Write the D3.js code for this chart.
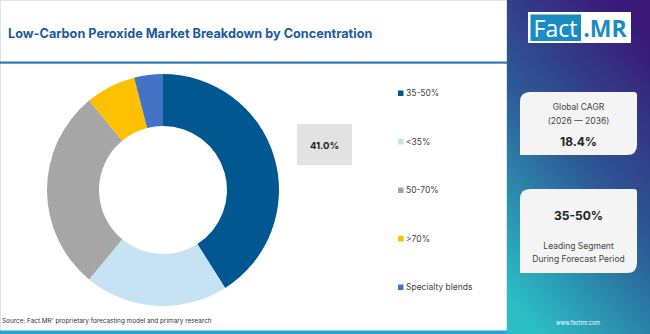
<!DOCTYPE html>
<html>
<head>
<meta charset="UTF-8">
<title>Low-Carbon Peroxide Market Breakdown by Concentration</title>
<style>
  body { margin: 0; background: #fff; }
  svg { display: block; font-family: Inter, "Noto Sans", sans-serif; }
</style>
</head>
<body>
<div id="chart"></div>
<script src="https://d3js.org/d3.v7.min.js"></script>
<script>
var W = 650, H = 334;

// data
var segments = ["35-50%", "<35%", "50-70%", ">70%", "Specialty blends"];
var shares = [41.0, 20.0, 28.0, 7.0, 4.0];
var colors = ["#01578f", "#c5e3f3", "#a6a6a6", "#ffc000", "#4472c4"];
var cagrLabel = ["Global CAGR", "(2026 \u2014 2036)"];
var cagrValue = "18.4%";
var leadValue = "35-50%";
var leadLabel = ["Leading Segment", "During Forecast Period"];

var svg = d3.select("#chart").append("svg")
  .attr("width", W).attr("height", H);

var defs = svg.append("defs");
var grad = defs.append("linearGradient").attr("id", "panelGrad")
  .attr("x1", 0.75).attr("y1", 0).attr("x2", 0.25).attr("y2", 1);
grad.append("stop").attr("offset", 0).attr("stop-color", "#3a1877");
grad.append("stop").attr("offset", 0.5).attr("stop-color", "#2c5b97");
grad.append("stop").attr("offset", 1).attr("stop-color", "#2bbdc4");

// left frame
svg.append("rect").attr("x", 0.5).attr("y", 0.5).attr("width", 506).attr("height", 333)
  .attr("fill", "#fff").attr("stroke", "#e2e2e2");

// title
svg.append("text").attr("x", 8).attr("y", 38)
  .attr("fill", "#1b5c9c").attr("font-size", 12.7).attr("font-weight", 700)
  .text("Low-Carbon Peroxide Market Breakdown by Concentration");

svg.append("rect").attr("x", 0).attr("y", 61.5).attr("width", 507).attr("height", 2.2)
  .attr("fill", "#2e78b4");

// donut
var cx = 163, cy = 190, rOut = 116, rIn = 64;
var pie = d3.pie().sort(null).value(function(d){ return d; });
var arc = d3.arc().innerRadius(rIn).outerRadius(rOut);
var g = svg.append("g").attr("transform", "translate(" + cx + "," + cy + ")");
g.selectAll("path").data(pie(shares)).enter().append("path")
  .attr("d", arc)
  .attr("fill", function(d, i){ return colors[i]; });

// value callout
svg.append("rect").attr("x", 297).attr("y", 124).attr("width", 55).attr("height", 41)
  .attr("fill", "#e2e2e2");
svg.append("text").attr("x", 324.5).attr("y", 148.5).attr("text-anchor", "middle")
  .attr("font-size", 9.5).attr("font-weight", 700).attr("fill", "#222")
  .text(d3.format(".1f")(shares[0]) + "%");

// legend
var ly = d3.scalePoint().domain(segments).range([93, 287]);
var leg = svg.append("g").selectAll("g").data(segments).enter().append("g")
  .attr("transform", function(d){ return "translate(398," + ly(d) + ")"; });
leg.append("rect").attr("x", 0).attr("y", -2.5).attr("width", 5.5).attr("height", 5.5)
  .attr("fill", function(d, i){ return colors[i]; });
leg.append("text").attr("x", 8).attr("y", 3.3)
  .attr("font-size", 8.5).attr("fill", "#444")
  .text(function(d){ return d; });

// source + bottom bar
svg.append("text").attr("x", 2).attr("y", 323)
  .attr("font-size", 6.4).attr("fill", "#333")
  .text("Source: Fact.MR' proprietary forecasting model and primary research");
svg.append("rect").attr("x", 0).attr("y", 330.5).attr("width", 507).attr("height", 3.5)
  .attr("fill", "#1ea6d9");

// right panel
var px = 507;
svg.append("rect").attr("x", px).attr("y", 0).attr("width", W - px).attr("height", H)
  .attr("fill", "url(#panelGrad)");

// logo
svg.append("rect").attr("x", 528).attr("y", 12).attr("width", 103).attr("height", 31).attr("fill", "#fff");
svg.append("rect").attr("x", 530.5).attr("y", 14.5).attr("width", 50.5).attr("height", 26.5).attr("fill", "#1a8cc3");
svg.append("text").attr("x", 555.5).attr("y", 37).attr("text-anchor", "middle")
  .attr("font-size", 23).attr("fill", "#fff").attr("font-family", "'Open Sans', sans-serif")
  .text("Fact");
svg.append("text").attr("x", 605).attr("y", 37).attr("text-anchor", "middle")
  .attr("font-size", 23).attr("font-weight", 700).attr("fill", "#1a8cc3")
  .attr("font-family", "'Open Sans', sans-serif")
  .text(".MR");

function cardPath(x, y, w, h) {
  var rl = 10, rs = 3;
  return "M" + x + "," + (y + rl) +
    "Q" + x + "," + y + " " + (x + rl) + "," + y +
    "L" + (x + w - rs) + "," + y +
    "Q" + (x + w) + "," + y + " " + (x + w) + "," + (y + rs) +
    "L" + (x + w) + "," + (y + h - rl) +
    "Q" + (x + w) + "," + (y + h) + " " + (x + w - rl) + "," + (y + h) +
    "L" + x + "," + (y + h) + "Z";
}

var cardX = 520, cardW = 117, mid = cardX + cardW / 2;
svg.append("path").attr("d", cardPath(cardX, 92, cardW, 63)).attr("fill", "#f4f4f4");
svg.append("text").attr("x", mid).attr("y", 110).attr("text-anchor", "middle")
  .attr("font-size", 8.5).attr("fill", "#444").text(cagrLabel[0]);
svg.append("text").attr("x", mid).attr("y", 124).attr("text-anchor", "middle")
  .attr("font-size", 8.5).attr("fill", "#444").text(cagrLabel[1]);
svg.append("text").attr("x", mid).attr("y", 146).attr("text-anchor", "middle")
  .attr("font-size", 12).attr("font-weight", 700).attr("fill", "#222").text(cagrValue);

svg.append("path").attr("d", cardPath(cardX, 189, cardW, 84)).attr("fill", "#f4f4f4");
svg.append("text").attr("x", mid).attr("y", 220).attr("text-anchor", "middle")
  .attr("font-size", 12).attr("font-weight", 700).attr("fill", "#222").text(leadValue);
svg.append("text").attr("x", mid).attr("y", 249).attr("text-anchor", "middle")
  .attr("font-size", 8.5).attr("fill", "#444").text(leadLabel[0]);
svg.append("text").attr("x", mid).attr("y", 262).attr("text-anchor", "middle")
  .attr("font-size", 8.5).attr("fill", "#444").text(leadLabel[1]);

svg.append("text").attr("x", 578).attr("y", 325).attr("text-anchor", "middle")
  .attr("font-size", 5.5).attr("fill", "#fff").text("www.factmr.com");
</script>
</body>
</html>
